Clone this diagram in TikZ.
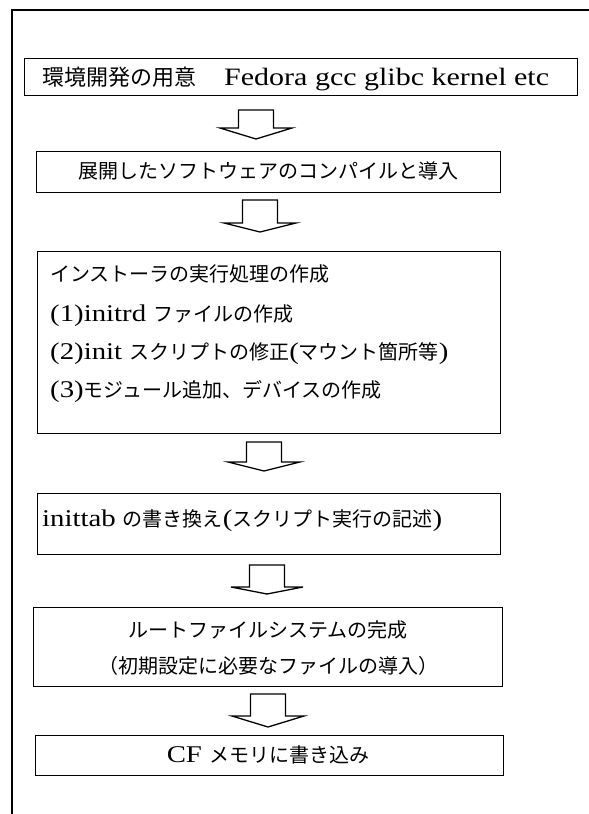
\documentclass[tikz,border=0pt]{standalone}
\usepackage{fontspec}
\setmainfont{Liberation Serif}[FakeStretch=1.2]
\newfontfamily\jpfont{Noto Sans CJK JP}
\newcommand\J[1]{{\jpfont\fontsize{20}{24}\selectfont #1}}
\newcommand\JB[1]{{\jpfont\fontsize{22}{26}\selectfont #1}}
\newcommand\blockarrow[4]{% cx, top, shoulder, tip
  \draw[barrow] (#1-17.5,#2) -- (#1+17.5,#2) -- (#1+17.5,#3) -- (#1+36,#3) -- (#1,#4)
    -- (#1-36,#3) -- (#1-17.5,#3) -- cycle;}
\begin{document}
\begin{tikzpicture}[x=1pt,y=-1pt,
  box/.style={draw, line width=1.3pt, inner sep=0pt, anchor=north west},
  txt/.style={inner sep=0pt, font=\fontsize{24}{28}\selectfont},
  bigtxt/.style={inner sep=0pt, font=\fontsize{25}{29}\selectfont},
  barrow/.style={draw, line width=1.3pt, fill=white, line join=miter},
  frame/.style={draw, line width=1.3pt}]
\useasboundingbox (0,0) rectangle (589,814);
\draw[frame] (12,814) -- (12,10) -- (589,10);

% boxes
\node (b1) [box, minimum width=553pt, minimum height=37pt] at (24,58) {};
\node (b2) [box, minimum width=464pt, minimum height=41pt] at (36,151) {};
\node (b3) [box, minimum width=463pt, minimum height=182pt] at (37,251) {};
\node (b4) [box, minimum width=463pt, minimum height=61pt] at (37,493) {};
\node (b5) [box, minimum width=469pt, minimum height=79pt] at (33,607) {};
\node (b6) [box, minimum width=468pt, minimum height=40pt] at (35,735) {};

% texts
\node (t1) [bigtxt, anchor=base west] at (42,85) {\JB{環境開発の用意}\hspace{28pt}Fedora gcc glibc kernel etc};
\node (t2) [txt, anchor=base] at (268,178.5) {\J{展開したソフトウェアのコンパイルと導入}};
\node (t3a) [txt, anchor=base west] at (50,281.5) {\J{インストーラの実行処理の作成}};
\node (t3b) [txt, anchor=base west] at (50,321.5) {(1)initrd \J{ファイルの作成}};
\node (t3c) [txt, anchor=base west] at (50,359.5) {(2)init \J{スクリプトの修正}(\J{マウント箇所等})};
\node (t3d) [txt, anchor=base west] at (50,397.5) {(3)\J{モジュール追加、デバイスの作成}};
\node (t4) [txt, anchor=base west] at (42,526.5) {inittab \J{の書き換え}(\J{スクリプト実行の記述})};
\node (t5a) [txt, anchor=base] at (268,637.5) {\J{ルートファイルシステムの完成}};
\node (t5b) [txt, anchor=base] at (268,673.5) {\J{（初期設定に必要なファイルの導入）}};
\node (t6) [txt, anchor=base] at (268,762.5) {CF \J{メモリに書き込み}};

% block arrows between boxes
\blockarrow{256}{110}{128}{139}
\blockarrow{260}{200}{223}{232}
\blockarrow{264}{442}{462}{471}
\blockarrow{267}{565}{587}{594}
\blockarrow{268}{694}{716}{727}
\end{tikzpicture}
\end{document}
